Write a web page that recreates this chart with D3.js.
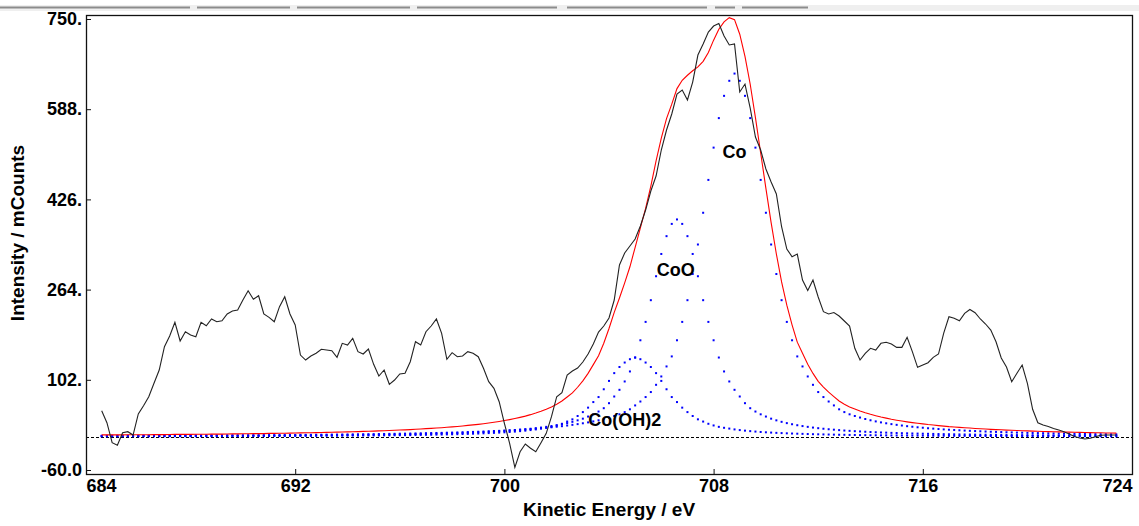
<!DOCTYPE html>
<html>
<head>
<meta charset="utf-8">
<script src="https://cdn.jsdelivr.net/npm/d3@7"></script>
<style>
  html, body { margin: 0; padding: 0; background: #ffffff; }
  svg { display: block; }
</style>
</head>
<body>
<script>
// ---------------- data ----------------
const energyStart = 684.6;   // eV, first sample
const energyStep = 0.2;      // eV per sample

// measured spectrum (mCounts)
const measured = [
  46.5, 24.9, -11.0, -15.7, 7.0, 8.8, 2.8, 40.6, 55.5, 71.6,
  95.7, 119.6, 161.4, 180.6, 205.3, 171.7, 188.4, 182.4, 179.4, 205.3,
  199.1, 211.2, 206.3, 208.1, 220.2, 225.5, 227.3, 245.3, 262.0, 246.6,
  253.0, 220.2, 214.2, 206.3, 233.3, 251.2, 220.2, 200.4, 146.5, 137.5,
  144.7, 149.6, 156.8, 155.5, 154.2, 142.4, 167.5, 164.5, 176.5, 152.5,
  148.3, 157.3, 129.8, 108.8, 119.6, 93.9, 101.6, 112.4, 113.7, 134.5,
  170.4, 164.5, 188.4, 198.6, 211.2, 185.5, 138.8, 150.7, 143.5, 144.7,
  152.5, 149.6, 143.5, 122.6, 98.6, 86.7, 62.6, 23.9, -12.1, -55.2,
  -27.2, -13.3, -21.0, -27.2, -11.0, 5.9, 35.7, 71.6, 78.8, 110.6,
  117.8, 123.2, 133.9, 148.3, 166.3, 187.8, 198.6, 213.0, 245.3, 308.2,
  329.7, 342.3, 354.9, 378.2, 406.9, 441.1, 468.0, 514.7, 550.6, 579.4,
  615.3, 622.5, 604.5, 636.8, 685.3, 705.1, 726.6, 737.4, 741.9, 719.4,
  703.3, 705.1, 618.9, 633.2, 590.1, 538.0, 514.7, 480.6, 457.2, 435.7,
  376.9, 336.9, 323.1, 327.9, 281.2, 262.4, 281.2, 250.7, 224.3, 220.2,
  222.8, 216.6, 207.6, 198.6, 158.6, 137.5, 149.6, 158.6, 155.5, 167.5,
  169.3, 166.3, 160.3, 160.3, 178.3, 152.5, 124.4, 128.6, 132.7, 142.4,
  148.3, 186.0, 215.3, 212.4, 208.1, 221.4, 228.2, 222.5, 211.2, 202.2,
  191.4, 170.4, 141.1, 125.0, 98.6, 113.7, 128.6, 95.7, 49.0, 24.9,
  20.8, 18.1, 14.5, 11.8, 8.8, 4.6, 0.1, -2.5, -4.3, -3.1,
  -0.4, 2.5, 2.8, 2.8, 2.8
];

// fitted component: Co
const coValues = [
  1.5, 1.5, 1.5, 1.5, 1.6, 1.6, 1.6, 1.6, 1.7, 1.7, 1.7, 1.8, 1.8, 1.8, 1.9, 1.9, 1.9, 2.0, 2.0, 2.0,
  2.1, 2.1, 2.2, 2.2, 2.3, 2.3, 2.4, 2.4, 2.5, 2.5, 2.6, 2.6, 2.7, 2.7, 2.8, 2.9, 2.9, 3.0, 3.1, 3.2,
  3.2, 3.3, 3.4, 3.5, 3.6, 3.7, 3.8, 3.9, 4.0, 4.1, 4.2, 4.3, 4.4, 4.6, 4.7, 4.9, 5.0, 5.2, 5.3, 5.5,
  5.7, 5.9, 6.1, 6.3, 6.5, 6.7, 7.0, 7.2, 7.5, 7.8, 8.1, 8.4, 8.7, 9.1, 9.5, 9.9, 10.3, 10.8, 11.3, 11.8,
  12.3, 12.9, 13.6, 14.3, 15.0, 15.9, 16.7, 17.7, 18.7, 19.9, 21.1, 22.4, 23.9, 25.5, 27.3, 29.3, 31.6, 34.2, 37, 40,
  44, 49, 56, 63, 71, 80, 93, 108, 126, 144, 173, 206, 245, 292, 345, 402, 461, 519, 572, 612,
  639, 652,
  639, 612, 572, 519, 461, 402, 345, 292, 245, 206, 173, 144, 126, 108, 93, 80, 71, 63, 56, 49,
  44, 40, 37, 34.2, 31.6, 29.3, 27.3, 25.5, 23.9, 22.4, 21.1, 19.9, 18.7, 17.7, 16.7, 15.9, 15.0, 14.3, 13.6, 12.9,
  12.3, 11.8, 11.3, 10.8, 10.3, 9.9, 9.5, 9.1, 8.7, 8.4, 8.1, 7.8, 7.5, 7.2, 7.0, 6.7, 6.5, 6.3, 6.1, 5.9,
  5.7, 5.5, 5.3, 5.2, 5.0, 4.9, 4.7, 4.6, 4.4, 4.3, 4.2, 4.1, 4.0
];

// fitted component: CoO
const cooValues = [
  1.0, 1.0, 1.0, 1.0, 1.0, 1.1, 1.1, 1.1, 1.1, 1.1, 1.2, 1.2, 1.2, 1.2, 1.3, 1.3, 1.3, 1.3, 1.4, 1.4,
  1.4, 1.5, 1.5, 1.5, 1.6, 1.6, 1.6, 1.7, 1.7, 1.8, 1.8, 1.8, 1.9, 1.9, 2.0, 2.0,
  2.1, 2.2, 2.2, 2.3, 2.3, 2.4, 2.5, 2.6, 2.6, 2.7, 2.8, 2.9, 3.0, 3.1, 3.2, 3.3, 3.4, 3.5, 3.7, 3.8,
  3.9, 4.1, 4.2, 4.4, 4.6, 4.8, 5.0, 5.2, 5.4, 5.6, 5.9, 6.1, 6.4, 6.7, 7.1, 7.4, 7.8, 8.2, 8.7, 9.2,
  9.7, 10.3, 10.9, 11.6, 12.4, 13.2, 14.1, 15.1, 16.2, 17.5, 18.9, 20.4, 22.2, 24.2, 26.5, 29.2, 32.2, 36, 40, 45,
  51, 60, 72, 84, 99, 117, 142, 173, 206, 245, 288, 328, 360, 382,
  390,
  382, 360, 328, 288, 245, 206, 173, 142, 117, 99, 84, 72, 60, 51, 45, 40, 36, 32.2, 29.2, 26.5,
  24.2, 22.2, 20.4, 18.9, 17.5, 16.2, 15.1, 14.1, 13.2, 12.4, 11.6, 10.9, 10.3, 9.7, 9.2, 8.7, 8.2, 7.8, 7.4, 7.1,
  6.7, 6.4, 6.1, 5.9, 5.6, 5.4, 5.2, 5.0, 4.8, 4.6, 4.4, 4.2, 4.1, 3.9, 3.8, 3.7, 3.5, 3.4, 3.3, 3.2,
  3.1, 3.0, 2.9, 2.8, 2.7, 2.6, 2.6, 2.5, 2.4, 2.3, 2.3, 2.2, 2.2, 2.1, 2.0, 2.0, 1.9, 1.9, 1.8, 1.8,
  1.8, 1.7, 1.7, 1.6
];

// fitted component: Co(OH)2
const cohValues = [
  0.5, 0.5, 0.5, 0.5, 0.5, 0.6, 0.6, 0.6, 0.6, 0.6, 0.6, 0.6, 0.6, 0.7, 0.7, 0.7, 0.7, 0.7, 0.7,
  0.8, 0.8, 0.8, 0.8, 0.8, 0.8, 0.9, 0.9, 0.9, 0.9, 1.0, 1.0, 1.0, 1.1, 1.1, 1.1, 1.1, 1.2, 1.2,
  1.3, 1.3, 1.3, 1.4, 1.4, 1.5, 1.5, 1.6, 1.6,
  1.7, 1.8, 1.8, 1.9, 2.0, 2.0, 2.1, 2.2, 2.3, 2.4, 2.5, 2.6, 2.7, 2.9, 3.0, 3.2, 3.3, 3.5, 3.7, 3.9,
  4.1, 4.3, 4.6, 4.9, 5.2, 5.5, 5.9, 6.3, 6.7, 7.2, 7.7, 8.3, 9.0, 9.8, 10.7, 11.7, 12.9, 14.4, 15.8, 17.5,
  20, 23, 27, 31, 37, 44, 52, 62, 71, 85, 100, 114, 125, 133, 139,
  142,
  139, 133, 125, 114, 100, 85, 71, 62, 52, 44, 37, 31, 27, 23, 20,
  17.5, 15.8, 14.4, 12.9, 11.7, 10.7, 9.8, 9.0, 8.3, 7.7, 7.2, 6.7, 6.3, 5.9, 5.5,
  5.2, 4.9, 4.6, 4.3, 4.1, 3.9, 3.7, 3.5, 3.3, 3.2, 3.0, 2.9, 2.7, 2.6, 2.5,
  2.4, 2.3, 2.2, 2.1, 2.0, 2.0, 1.9, 1.8, 1.8, 1.7, 1.6, 1.6, 1.5, 1.5, 1.4,
  1.4, 1.3, 1.3, 1.3, 1.2, 1.2, 1.1, 1.1, 1.1, 1.1, 1.0, 1.0, 1.0, 0.9, 0.9,
  0.9, 0.9, 0.8, 0.8, 0.8, 0.8, 0.8, 0.8, 0.7, 0.7, 0.7, 0.7, 0.7, 0.7, 0.6, 0.6, 0.6
];

const peakNames = ["Co", "CoO", "Co(OH)2"];
const xTicks = [684, 692, 700, 708, 716, 724];
const xTickLabels = ["684", "692", "700", "708", "716", "724"];
const yTicks = [-60, 102, 264, 426, 588, 750];
const yTickLabels = ["-60.0", "102.", "264.", "426.", "588.", "750."];
const xTitle = "Kinetic Energy / eV";
const yTitle = "Intensity / mCounts";

// ---------------- checks ----------------
const N = measured.length;
[coValues, cooValues, cohValues].forEach((a, k) => {
  if (a.length !== N) throw new Error("length mismatch series " + k + ": " + a.length + " vs " + N);
});

// ---------------- chart ----------------
const W = 1139, H = 526;
const frame = { left: 86, right: 1132, top: 15, bottom: 474 };
const svg = d3.select("body").append("svg").attr("width", W).attr("height", H);

// top toolbar remnant
svg.append("rect").attr("x", 0).attr("y", 5).attr("width", W).attr("height", 6).attr("fill", "#efefef");
const segs = [[0, 190], [197, 290], [297, 410], [417, 557], [567, 707], [715, 735], [742, 808]];
svg.selectAll("rect.seg").data(segs).join("rect").attr("class", "seg")
  .attr("x", d => d[0]).attr("y", 6.5).attr("width", d => d[1] - d[0]).attr("height", 2)
  .attr("fill", "#8c8c8c");

const x = d3.scaleLinear().domain([684, 724]).range([frame.left, frame.right]);
const y = d3.scaleLinear().domain([-60, 750]).range([470, 19]);
const energy = i => energyStart + energyStep * i;

const tickFont = "'Liberation Sans Narrow', 'Arial Narrow', 'Liberation Sans', Arial, sans-serif";
const titleFont = "'Liberation Sans', Arial, sans-serif";

// baseline
svg.append("line")
  .attr("x1", frame.left).attr("x2", frame.right)
  .attr("y1", Math.round(y(0)) + 0.5).attr("y2", Math.round(y(0)) + 0.5)
  .attr("stroke", "#000").attr("stroke-width", 1).attr("stroke-dasharray", "3,2");

// component dots
const dotsG = svg.append("g");
[coValues, cooValues, cohValues].forEach(series => {
  dotsG.append("g").selectAll("rect").data(series).join("rect")
    .attr("x", (d, i) => x(energy(i)) - 1)
    .attr("y", d => y(d) - 1)
    .attr("width", 2).attr("height", 2)
    .attr("fill", "#0000ff");
});

// envelope (sum of fitted components)
const envelope = measured.map((_, i) => coValues[i] + cooValues[i] + cohValues[i]);
const line = d3.line().x((d, i) => x(energy(i))).y(d => y(d));
svg.append("path").datum(envelope).attr("d", line)
  .attr("fill", "none").attr("stroke", "#ff0000").attr("stroke-width", 1.1);

// measured
svg.append("path").datum(measured).attr("d", line)
  .attr("fill", "none").attr("stroke", "#222").attr("stroke-width", 1.1);

// frame
svg.append("rect")
  .attr("x", frame.left + 0.5).attr("y", frame.top + 0.5)
  .attr("width", frame.right - frame.left).attr("height", frame.bottom - frame.top)
  .attr("fill", "none").attr("stroke", "#111").attr("stroke-width", 1.3);

// axes
const xAxis = d3.axisBottom(x).tickValues(xTicks).tickFormat((d, i) => xTickLabels[i])
  .tickSize(-5).tickPadding(5);
const gx = svg.append("g").attr("transform", `translate(0,${frame.bottom})`).call(xAxis);
gx.select(".domain").remove();
gx.selectAll("line").attr("stroke", "#111");
gx.selectAll("text").attr("font-family", tickFont).attr("font-weight", "bold")
  .attr("font-size", 18).attr("fill", "#000")
  .attr("text-anchor", (d, i) => i === 0 ? "start" : (i === xTicks.length - 1 ? "end" : "middle"));

const yAxis = d3.axisLeft(y).tickValues(yTicks).tickFormat((d, i) => yTickLabels[i])
  .tickSize(-5).tickPadding(4);
const gy = svg.append("g").attr("transform", `translate(${frame.left},0)`).call(yAxis);
gy.select(".domain").remove();
gy.selectAll("line").attr("stroke", "#111");
gy.selectAll("text").attr("font-family", tickFont).attr("font-weight", "bold")
  .attr("font-size", 18).attr("fill", "#000");

// titles
svg.append("text").attr("x", (frame.left + frame.right) / 2).attr("y", 516)
  .attr("text-anchor", "middle").attr("font-family", titleFont).attr("font-weight", "bold")
  .attr("font-size", 19).text(xTitle);
svg.append("text").attr("transform", "translate(24,233) rotate(-90)")
  .attr("text-anchor", "middle").attr("font-family", titleFont).attr("font-weight", "bold")
  .attr("font-size", 19).text(yTitle);

// peak labels (placed in data coordinates)
const labelAt = [[708.8, 511], [706.55, 299], [704.6, 30]];
svg.selectAll("text.peak").data(peakNames).join("text").attr("class", "peak")
  .attr("x", (d, i) => x(labelAt[i][0])).attr("y", (d, i) => y(labelAt[i][1]))
  .attr("dy", "0.35em").attr("text-anchor", "middle")
  .attr("font-family", titleFont).attr("font-weight", "bold").attr("font-size", 18)
  .attr("fill", "#000").text(d => d);
</script>
</body>
</html>
